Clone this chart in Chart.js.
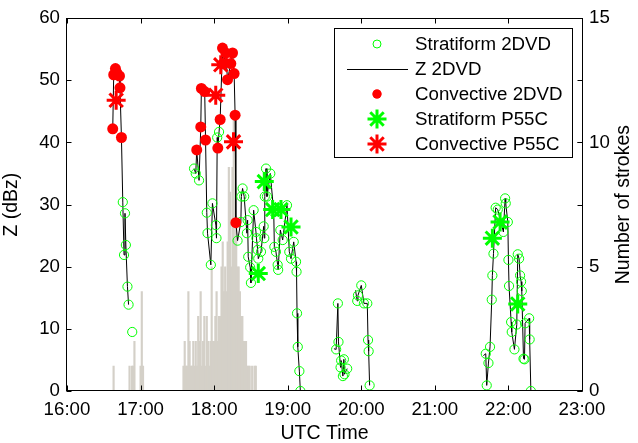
<!DOCTYPE html>
<html>
<head>
<meta charset="utf-8">
<script src="https://cdn.jsdelivr.net/npm/chart.js@4.4.1/dist/chart.umd.min.js"></script>
<style>
html,body{margin:0;padding:0;background:#fff;overflow:hidden;}
canvas{display:block;}
</style>
</head>
<body>
<canvas id="chart" width="638" height="443"></canvas>
<script>
// ---------------- data (x = minutes after 16:00 UTC) ----------------
const xTickLabels = ['16:00','17:00','18:00','19:00','20:00','21:00','22:00','23:00'];
const xTitle = 'UTC Time';
const yTitle = 'Z (dBz)';
const y2Title = 'Number of strokes';

// Z 2DVD series (null = gap in the line); class: s = stratiform, c = convective, - = line only
const zTime = [
  37.3,38.1,39.5,40.7,42.8,43.2,44.4,45.5,46.5,47.3,48.0,49.3,50.2,
  51.7, 53.2, 60,
  103.6,105.0,105.8,107.7,109.1,109.6,112.3,113.0,114.0,114.6,117.3,118.6,121.4,121.9,122.5,123.0,
  124.0,124.9,126.8,127.3,129.5,130.9,133.6,135.0,136.3,137.1,137.7,139.1,141.8,142.2,143.2,144.5,
  146.7,147.3,147.8,149.4,150.0,152.2,154.1,154.5,155.5,156.0,158.2,160.4,160.9,161.3,162.3,163.1,
  165.8,168.6,169.1,170.4,171.8,172.2,174.0,175.9,179.4,181.3,182.7,184.9,186.8,187.2,187.6,188.2,
  189.5,190.3,
  200,
  217.7,219.5,220.9,221.4,223.1,223.6,225.0,225.8,226.3,228.5,
  232,
  235.3,236.7,237.3,240.0,242.2,244.9,245.5,246.0,246.8,
  300,
  339.6,341.5,342.3,343.7,345.0,346.4,346.9,347.8,349.6,351.3,355.9,357.3,357.8,359.5,360.0,360.5,
  362.2,362.7,364.9,366.8,367.6,368.7,369.5,370.3,370.9,372.3,373.1,373.6,376.9,377.3,378.3
];
const zValue = [
  42.2,50.9,51.9,51.2,50.7,48.8,40.8,30.4,21.9,28.6,23.5,16.8,13.9,
  null, 9.5, null,
  35.8,35.0,38.8,33.9,42.5,48.7,48.2,40.4,28.7,25.4,20.3,30.2,26.7,24.6,40.8,39.1,
  41.7,43.7,55.2,52.7,54.4,50.1,52.7,54.4,51.1,44.4,27.1,24.2,27.2,31.3,32.6,31.3,
  25.4,27.5,21.6,19.9,17.4,29.1,25.6,24.6,22.7,21.3,22.4,26.5,24.6,31.3,35.8,31.3,
  35.0,28.8,23.2,22.4,20.3,19.5,25.9,24.3,29.9,22.4,21.3,24.0,20.8,19.2,12.5,7.1,
  3.2,0,
  null,
  6.8,6.7,14.1,7.9,3.8,4.9,2.4,5.1,2.7,3.6,
  null,
  16.2,14.5,15.4,17.0,14.1,14.1,8.2,6.4,0.9,
  null,
  5.7,6.0,0.9,4.5,7.1,14.7,18.6,22.1,29.5,29.2,25.6,31.0,30.2,27.2,21.1,16.9,
  11.1,9.5,6.7,10.7,22.0,21.3,18.6,17.6,16.1,5.2,5.1,10.9,11.7,8.3,0
];
const zClass = (
  'cccccccssssss' + '-s-' +
  'sscsccccssssssscsccccccccccsssssssssssssssssssssssssssssssssssssss-' + '-' +
  'ssssssssss' + '-' +
  'sssssssss' + '-' +
  'ssssssssssssssssssssssssssssss-'
).split('');

// P55C radar values
const p55ConvTime  = [40.1, 121.3, 125.4, 135.8];
const p55ConvZ     = [46.8, 47.6, 52.5, 40.1];
const p55StratTime = [156.0, 160.9, 167.7, 174.5, 182.7, 346.9, 353.2, 367.6];
const p55StratZ    = [18.9, 33.7, 29.2, 29.2, 26.4, 24.6, 27.2, 14.0];

// lightning strokes per minute
const strokeTime = [38,51,53,54,55,60,61,62,
  95,96,97,98,99,100,101,102,103,104,105,106,107,108,109,110,111,112,113,114,115,116,117,118,119,120,
  121,122,123,124,125,126,127,128,129,130,131,132,133,134,135,136,137,138,139,140,141,142,143,144,145,
  146,147,148,149,151,153,154];
const strokeCount = [1,1,1,1,2,1,4,1,
  1,2,1,1,4,2,1,1,2,1,2,1,3,2,4,1,2,3,1,3,2,1,2,5,2,2,
  3,4,2,3,3,5,6,4,5,4,6,9,8,5,9,11,6,7,5,5,4,3,3,2,2,
  2,1,1,1,1,1,1];

// ---------------- build datasets ----------------
const pts = (t, v) => t.map((x, i) => ({x: x, y: v[i]}));
const linePts = pts(zTime, zValue);
const stratPts = linePts.filter((p, i) => zClass[i] === 's');
const convPts = linePts.filter((p, i) => zClass[i] === 'c');

const FONT = "'Liberation Sans', Arial, Helvetica, sans-serif";
Chart.defaults.font.family = FONT;
Chart.defaults.font.size = 18.7;
Chart.defaults.color = '#000';

const GREEN = '#00ff00', RED = '#ff0000';

const datasets = [
  {type:'scatter', label:'Stratiform 2DVD', data: stratPts, yAxisID:'y', order:4,
   pointStyle:'circle', pointRadius:4.6, pointBorderWidth:1, borderColor:GREEN, backgroundColor:'rgba(0,0,0,0)',
   legendRadius:4},
  {type:'line', label:'Z 2DVD', data: linePts, yAxisID:'y', order:5,
   borderColor:'#000', borderWidth:1, pointRadius:0, tension:0, spanGaps:false, fill:false, legendLine:true},
  {type:'scatter', label:'Convective 2DVD', data: convPts, yAxisID:'y', order:3,
   pointStyle:'circle', pointRadius:5.5, pointBorderWidth:0, borderColor:RED, backgroundColor:RED,
   legendRadius:4.5},
  {type:'scatter', label:'Stratiform P55C', data: pts(p55StratTime, p55StratZ), yAxisID:'y', order:2,
   pointStyle:'star', pointRadius:9.5, pointBorderWidth:3, borderColor:GREEN, backgroundColor:GREEN,
   legendRadius:9.5},
  {type:'scatter', label:'Convective P55C', data: pts(p55ConvTime, p55ConvZ), yAxisID:'y', order:1,
   pointStyle:'star', pointRadius:9.5, pointBorderWidth:3, borderColor:RED, backgroundColor:RED,
   legendRadius:9.5},
  {type:'bar', label:'Strokes', data: pts(strokeTime, strokeCount), yAxisID:'y2', order:10,
   backgroundColor:'#d4d0c8', borderWidth:0, barThickness:1.5, hideInLegend:true}
];

// ---------------- plugins ----------------
const framePlugin = {
  id: 'frame',
  afterDatasetsDraw(chart) {
    const {ctx, chartArea: a, scales} = chart;
    const L = 5;
    const l = Math.round(a.left) - 0.5, r = Math.round(a.right) + 0.5;
    const t = Math.round(a.top) + 0.5, b = Math.round(a.bottom) - 0.5;
    ctx.save();
    ctx.strokeStyle = '#000';
    ctx.lineWidth = 1;
    ctx.beginPath();
    scales.x.ticks.forEach(tk => {
      const px = Math.round(scales.x.getPixelForValue(tk.value)) + 0.5;
      ctx.moveTo(px, b); ctx.lineTo(px, b - L);
      ctx.moveTo(px, t); ctx.lineTo(px, t + L);
    });
    scales.y.ticks.forEach(tk => {
      const py = Math.round(scales.y.getPixelForValue(tk.value)) + 0.5;
      ctx.moveTo(l, py); ctx.lineTo(l + L, py);
      ctx.moveTo(r, py); ctx.lineTo(r - L, py);
    });
    scales.y2.ticks.forEach(tk => {
      const py = Math.round(scales.y2.getPixelForValue(tk.value)) + 0.5;
      ctx.moveTo(r, py); ctx.lineTo(r - L, py);
    });
    ctx.stroke();
    ctx.strokeRect(l, t, r - l, b - t);
    ctx.restore();
  },
  afterDraw(chart) {
    const {ctx, chartArea: a} = chart;
    // right axis title (reads bottom-to-top like the left one)
    ctx.save();
    ctx.translate(624, (a.top + a.bottom) / 2);
    ctx.rotate(-Math.PI / 2);
    ctx.font = '19.5px ' + FONT;
    ctx.fillStyle = '#000';
    ctx.textAlign = 'center';
    ctx.textBaseline = 'middle';
    ctx.fillText(y2Title, 0, 0);
    ctx.restore();

    // legend box
    const bx = 334.5, by = 28.5, bw = 238, bh = 129;
    ctx.save();
    ctx.fillStyle = '#fff';
    ctx.fillRect(bx, by, bw, bh);
    ctx.strokeStyle = '#000';
    ctx.lineWidth = 1;
    ctx.strokeRect(bx, by, bw, bh);
    const items = chart.data.datasets.filter(d => !d.hideInLegend);
    const rowY = [44, 69, 94, 119, 144];
    const mx = 377, tx = 415;
    items.forEach((d, i) => {
      const y = rowY[i];
      if (d.legendLine) {
        ctx.beginPath();
        ctx.strokeStyle = d.borderColor;
        ctx.lineWidth = 1;
        ctx.moveTo(347, y + 0.5); ctx.lineTo(408, y + 0.5);
        ctx.stroke();
      } else {
        ctx.strokeStyle = d.borderColor;
        ctx.fillStyle = d.backgroundColor;
        ctx.lineWidth = d.pointBorderWidth || 0;
        Chart.helpers.drawPoint(ctx, {pointStyle: d.pointStyle, radius: d.legendRadius, borderWidth: d.pointBorderWidth, rotation: 0}, mx, y);
        if (d.pointStyle === 'circle' && d.pointBorderWidth === 0) {
          ctx.beginPath(); ctx.arc(mx, y, d.legendRadius, 0, Math.PI * 2); ctx.fill();
        }
      }
      ctx.fillStyle = '#000';
      ctx.font = '18.7px ' + FONT;
      ctx.textAlign = 'left';
      ctx.textBaseline = 'middle';
      ctx.fillText(d.label, tx, y + 1);
    });
    ctx.restore();
  }
};

// ---------------- chart ----------------
new Chart(document.getElementById('chart'), {
  type: 'line',
  data: { datasets },
  options: {
    responsive: false,
    animation: false,
    devicePixelRatio: 1,
    layout: { padding: { top: 18, left: 0, right: 0, bottom: 0 } },
    plugins: { legend: { display: false }, tooltip: { enabled: false } },
    events: [],
    scales: {
      x: {
        type: 'linear', min: 0, max: 420, offset: false,
        grid: { display: false, drawTicks: false },
        border: { display: false },
        ticks: { stepSize: 60, autoSkip: false, maxRotation: 0, padding: 8,
                 callback: v => xTickLabels[Math.round(v / 60)] },
        title: { display: true, text: xTitle, font: { size: 19.5, lineHeight: 1.0 }, padding: { top: 0, bottom: 0 } },
        afterFit: s => { s.height = 52; }
      },
      y: {
        type: 'linear', position: 'left', min: 0, max: 60,
        grid: { display: false, drawTicks: false },
        border: { display: false },
        ticks: { stepSize: 10, padding: 7 },
        title: { display: true, text: yTitle, font: { size: 19.5 }, padding: { top: 0, bottom: 0 } },
        afterFit: s => { s.width = 67; }
      },
      y2: {
        type: 'linear', position: 'right', min: 0, max: 15,
        grid: { display: false, drawTicks: false },
        border: { display: false },
        ticks: { stepSize: 5, padding: 7 },
        title: { display: false },
        afterFit: s => { s.width = 56; }
      }
    }
  },
  plugins: [framePlugin]
});
</script>
</body>
</html>
